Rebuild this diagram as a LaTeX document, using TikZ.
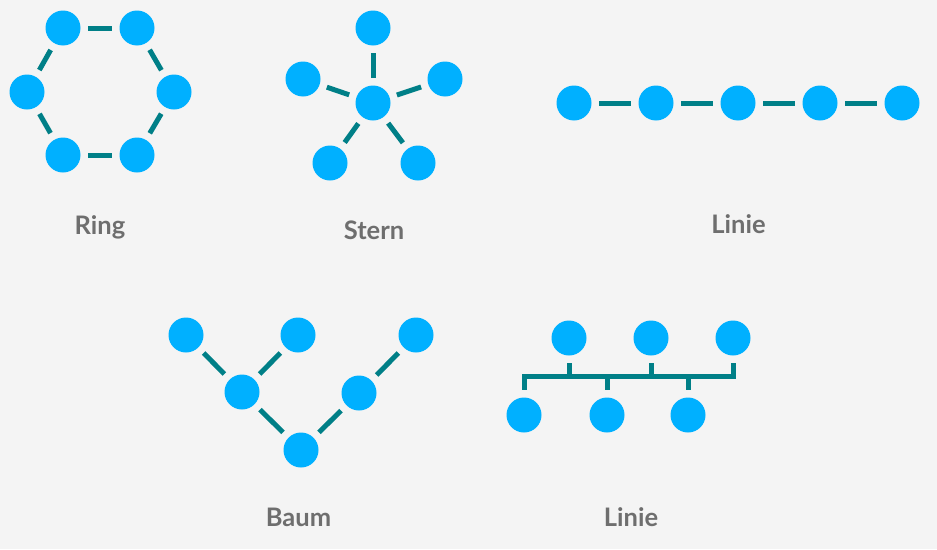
\documentclass[tikz,border=0pt]{standalone}
\usepackage{fontspec}
\setmainfont{Lato}
\definecolor{bg}{HTML}{F4F4F4}
\definecolor{nodeblue}{HTML}{00B0FF}
\definecolor{teal}{HTML}{007F87}
\definecolor{labelgray}{HTML}{6E6E6E}
\begin{document}
\begin{tikzpicture}[x=1pt,y=-1pt,
  dot/.style={circle,fill=nodeblue,minimum size=35pt,inner sep=0pt},
  edge/.style={draw=teal,line width=5pt,shorten >=7.5pt,shorten <=7.5pt},
  bus/.style={draw=teal,line width=5pt,line join=miter},
  lbl/.style={anchor=base,text=labelgray,font=\fontsize{25.5}{30}\selectfont\bfseries,inner sep=0pt}]
\fill[bg] (0,0) rectangle (937,549);
\useasboundingbox (0,0) rectangle (937,549);
% Ring
\node[dot] (r1) at (63,28) {};
\node[dot] (r2) at (137,28) {};
\node[dot] (r3) at (174,92) {};
\node[dot] (r4) at (137,155) {};
\node[dot] (r5) at (63,155) {};
\node[dot] (r6) at (27,92) {};
\path[edge] (r1) -- (r2);
\path[edge] (r2) -- (r3);
\path[edge] (r3) -- (r4);
\path[edge] (r4) -- (r5);
\path[edge] (r5) -- (r6);
\path[edge] (r6) -- (r1);
\node[lbl] (lring) at (100,234) {Ring};
% Stern
\node[dot] (sc) at (373,103) {};
\node[dot] (s1) at (373,28) {};
\node[dot] (s2) at (445,79) {};
\node[dot] (s3) at (418,163) {};
\node[dot] (s4) at (330,163) {};
\node[dot] (s5) at (303,79) {};
\foreach \n in {s1,s2,s3,s4,s5} \path[edge] (sc) -- (\n);
\node[lbl] (lstern) at (374,239) {Stern};
% Linie (top)
\node[dot] (l1) at (574,103) {};
\node[dot] (l2) at (656,103) {};
\node[dot] (l3) at (738,103) {};
\node[dot] (l4) at (820,103) {};
\node[dot] (l5) at (902,103) {};
\path[edge] (l1) -- (l2);
\path[edge] (l2) -- (l3);
\path[edge] (l3) -- (l4);
\path[edge] (l4) -- (l5);
\node[lbl] (llinie1) at (738.5,233) {Linie};
% Baum
\node[dot] (b1) at (186,335) {};
\node[dot] (b2) at (298,335) {};
\node[dot] (b3) at (416,335) {};
\node[dot] (b4) at (242,392) {};
\node[dot] (b5) at (359,393) {};
\node[dot] (b6) at (301,450) {};
\path[edge] (b1) -- (b4);
\path[edge] (b2) -- (b4);
\path[edge] (b4) -- (b6);
\path[edge] (b6) -- (b5);
\path[edge] (b5) -- (b3);
\node[lbl] (lbaum) at (298.5,526) {Baum};
% Linie (bus)
\node[dot] (t1) at (569,338) {};
\node[dot] (t2) at (651,338) {};
\node[dot] (t3) at (733,338) {};
\node[dot] (u1) at (524,415) {};
\node[dot] (u2) at (607,415) {};
\node[dot] (u3) at (688,415) {};
\coordinate (busL) at (524,376);
\coordinate (busR) at (733,376);
\path[bus] ([yshift=7.5pt]u1.north) -- (busL) -- (busR) -- ([yshift=-7.5pt]t3.south);
\path[bus] ([yshift=-7.5pt]t1.south) -- (t1.south |- busL);
\path[bus] ([yshift=-7.5pt]t2.south) -- (t2.south |- busL);
\path[bus] ([yshift=7.5pt]u2.north) -- (u2.north |- busL);
\path[bus] ([yshift=7.5pt]u3.north) -- (u3.north |- busL);
\node[lbl] (llinie2) at (631,526) {Linie};
\end{tikzpicture}
\end{document}
